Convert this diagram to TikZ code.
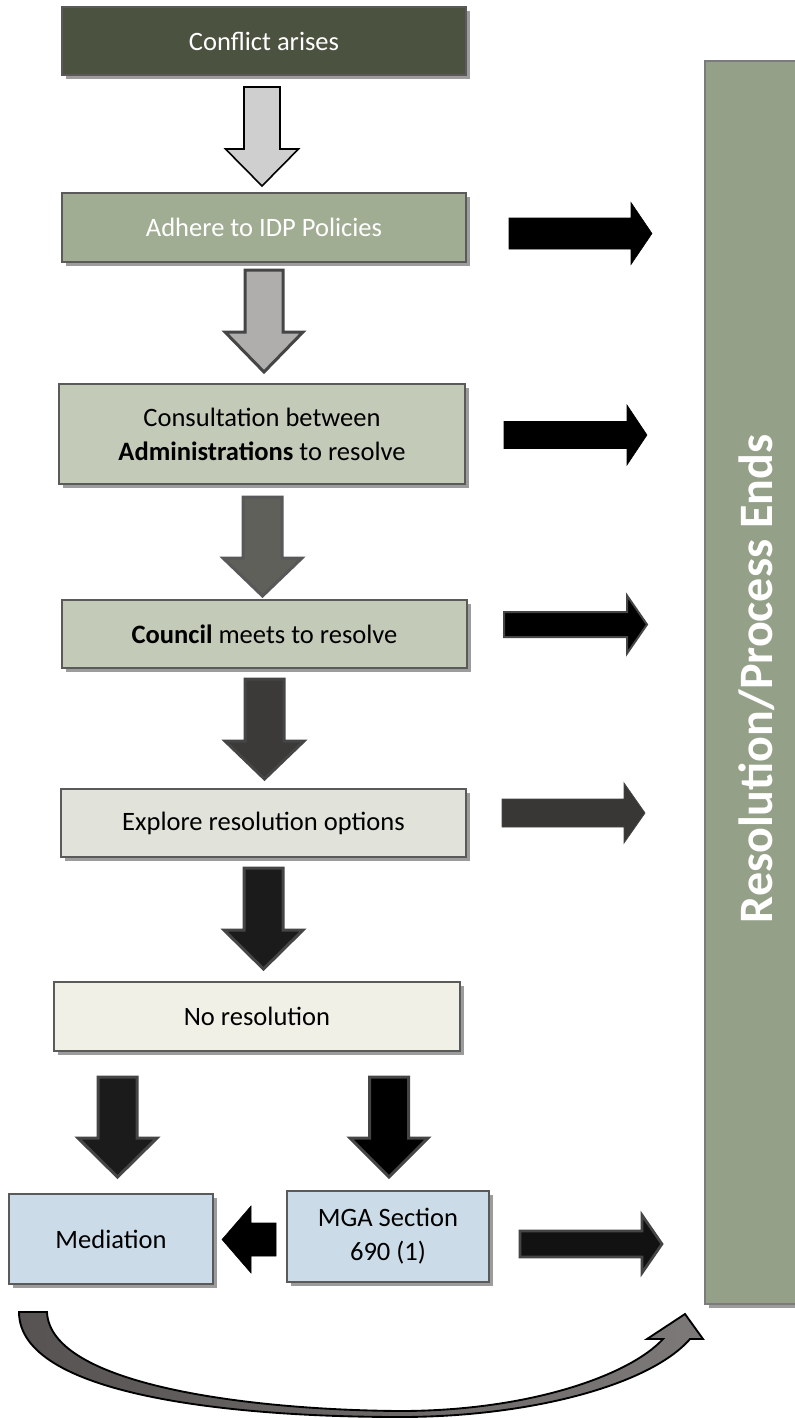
\documentclass[tikz,border=0pt]{standalone}
\usepackage{fontspec}
\setmainfont{Carlito}
\usetikzlibrary{calc,shadows}
\definecolor{bordergray}{HTML}{5A5A5A}
\definecolor{shadowgray}{HTML}{9C9C9C}
\definecolor{cdark}{HTML}{4B5340}
\definecolor{cadhere}{HTML}{A1AD93}
\definecolor{cmid}{HTML}{C3CAB8}
\definecolor{cexplore}{HTML}{E1E3DA}
\definecolor{cnores}{HTML}{F0F0E6}
\definecolor{cblue}{HTML}{CBDCE8}
\definecolor{cbar}{HTML}{95A088}
\definecolor{aone}{HTML}{D0CFD0}
\definecolor{atwo}{HTML}{B0ADAD}
\definecolor{athree}{HTML}{5F605A}
\definecolor{afour}{HTML}{3B3A38}
\definecolor{afive}{HTML}{1B1B1B}
\definecolor{aline}{HTML}{454545}
\definecolor{curvedark}{HTML}{575353}
\definecolor{curvelight}{HTML}{7D7979}
\newcommand\arrdown[6]{%
  \draw[#6] ($(#1)+(-#3,0)$) -- ($(#1)+(#3,0)$) -- ($(#2)+(#3,-#5)$) -- ($(#2)+(#4,-#5)$) -- (#2) -- ($(#2)+(-#4,-#5)$) -- ($(#2)+(-#3,-#5)$) -- cycle;}
\newcommand\arrright[6]{%
  \draw[#6] ($(#1)+(0,-#3)$) -- ($(#2)+(-#5,-#3)$) -- ($(#2)+(-#5,-#4)$) -- (#2) -- ($(#2)+(-#5,#4)$) -- ($(#2)+(-#5,#3)$) -- ($(#1)+(0,#3)$) -- cycle;}
\newcommand\arrleft[6]{%
  \draw[#6] ($(#1)+(0,-#3)$) -- ($(#2)+(#5,-#3)$) -- ($(#2)+(#5,-#4)$) -- (#2) -- ($(#2)+(#5,#4)$) -- ($(#2)+(#5,#3)$) -- ($(#1)+(0,#3)$) -- cycle;}
\tikzset{
  box/.style={draw=bordergray, line width=1.5pt, inner sep=0pt, align=center,
    font=\fontsize{19.9pt}{25.5pt}\selectfont,
    drop shadow={shadow xshift=3pt, shadow yshift=-3pt, fill=shadowgray, opacity=1}},
  thickout/.style={line width=2.25pt, line join=miter},
}
\begin{document}
\begin{tikzpicture}[x=0.75pt,y=-0.75pt]
\useasboundingbox (0,0) rectangle (795,1418);
\clip (0,0) rectangle (795,1418);
% boxes
\node[box, fill=cdark, text=white, minimum width={404*0.75pt}, minimum height={68*0.75pt}] (conflict) at (264,41) {Conflict arises};
\node[box, fill=cadhere, text=white, minimum width={404*0.75pt}, minimum height={69*0.75pt}] (adhere) at (264,227.5) {Adhere to IDP Policies};
\node[box, fill=cmid, minimum width={406*0.75pt}, minimum height={100*0.75pt}] (consult) at (262,434) {Consultation between\\\textbf{Administrations} to resolve};
\node[box, fill=cmid, minimum width={405*0.75pt}, minimum height={68*0.75pt}] (council) at (264.5,634) {\textbf{Council} meets to resolve};
\node[box, fill=cexplore, minimum width={405*0.75pt}, minimum height={68*0.75pt}] (explore) at (263.5,823) {Explore resolution options};
\node[box, fill=cnores, minimum width={406*0.75pt}, minimum height={69*0.75pt}] (nores) at (257,1016.5) {No resolution};
\node[box, fill=cblue, minimum width={204*0.75pt}, minimum height={90*0.75pt}] (mediation) at (111,1239) {Mediation};
\node[box, fill=cblue, minimum width={202*0.75pt}, minimum height={91*0.75pt}] (mga) at (388,1236.5) {MGA Section\\690 (1)};
\node[box, fill=cbar, draw=bordergray!80, minimum width={132*0.75pt}, minimum height={1243*0.75pt}] (bar) at (771,682.5) {};
\node[rotate=90, anchor=base, inner sep=0pt, text=white, font=\fontsize{36pt}{43pt}\selectfont\bfseries] (bartext) at (772,679) {Resolution/Process Ends};
% down arrow coordinates
\coordinate (a1s) at ($(conflict.south)+(-2,11)$);
\coordinate (a1e) at ($(adhere.north)+(-2,-6)$);
\coordinate (a2s) at ($(adhere.south)+(0,7)$);
\coordinate (a2e) at ($(consult.north)+(2,-11)$);
\coordinate (a3s) at ($(consult.south)+(0.5,12)$);
\coordinate (a3e) at ($(council.north)+(-2,-3)$);
\coordinate (a4s) at ($(council.south)+(0,10)$);
\coordinate (a4e) at ($(explore.north)+(1,-9)$);
\coordinate (a5s) at ($(explore.south)+(0,10)$);
\coordinate (a5e) at ($(nores.north)+(6.5,-12)$);
\coordinate (a6s) at (117.5,1077);
\coordinate (a6e) at ($(mediation.north)+(6.5,-16)$);
\coordinate (a7s) at (389,1077);
\coordinate (a7e) at ($(mga.north)+(1,-13)$);
\arrdown{a1s}{a1e}{18}{36.5}{37}{fill=aone, draw=black, line width=1.2pt, line join=miter}
\arrdown{a2s}{a2e}{19}{39}{40}{fill=atwo, draw=aline, thickout}
\arrdown{a3s}{a3e}{19.5}{39.5}{38}{fill=athree, draw=aline!90, thickout}
\arrdown{a4s}{a4e}{19.5}{39.5}{38}{fill=afour, draw=aline, thickout}
\arrdown{a5s}{a5e}{19.5}{39.5}{39}{fill=afive, draw=aline, thickout}
\arrdown{a6s}{a6e}{19.5}{39.5}{39}{fill=afive, draw=aline, thickout}
\arrdown{a7s}{a7e}{19.5}{39}{39}{fill=black, draw=aline, thickout}
% right arrows
\coordinate (r1s) at (509,233.5);
\coordinate (r1e) at ($(bar.west |- r1s)+(-52,0)$);
\coordinate (r2s) at (504,435);
\coordinate (r2e) at ($(bar.west |- r2s)+(-57,0)$);
\coordinate (r3s) at (504,624.5);
\coordinate (r3e) at ($(bar.west |- r3s)+(-57,0)$);
\coordinate (r4s) at (502,813);
\coordinate (r4e) at ($(bar.west |- r4s)+(-59,0)$);
\coordinate (r5s) at ($(mga.east |- 0,1244)+(30,0)$);
\coordinate (r5e) at ($(bar.west |- r5s)+(-42,0)$);
\arrright{r1s}{r1e}{15.5}{31}{21}{fill=black}
\arrright{r2s}{r2e}{13.5}{30}{20}{fill=black}
\arrright{r3s}{r3e}{12.5}{29}{20}{fill=black, draw=aline, line width=1.5pt}
\arrright{r4s}{r4e}{14}{30}{21}{fill=afour!95!black, draw=aline, line width=0.6pt}
\arrright{r5s}{r5e}{13}{29}{20}{fill=black!93, draw=aline, line width=2pt}
% left arrow
\coordinate (ls) at ($(mga.west)+(-10,3)$);
\coordinate (le) at ($(mediation.east)+(8,0.5)$);
\arrleft{ls}{le}{16.5}{33.5}{29}{fill=black}
% curved arrow from mediation to the bar
\coordinate (ce) at ($(bar.south west)+(-19,9)$);
\draw[left color=curvedark, right color=curvelight, draw=black, line width=1.4pt, line join=miter]
  (19,1312) -- (47,1312)
  .. controls (50,1385) and (250,1410) .. (400,1411)
  .. controls (530,1411) and (630,1375) .. (663,1339)
  -- (647,1339) -- (ce) -- (703,1339) -- (690,1339)
  .. controls (650,1385) and (530,1417) .. (400,1417)
  .. controls (230,1417) and (19,1395) .. (19,1312) -- cycle;
\end{tikzpicture}
\end{document}
